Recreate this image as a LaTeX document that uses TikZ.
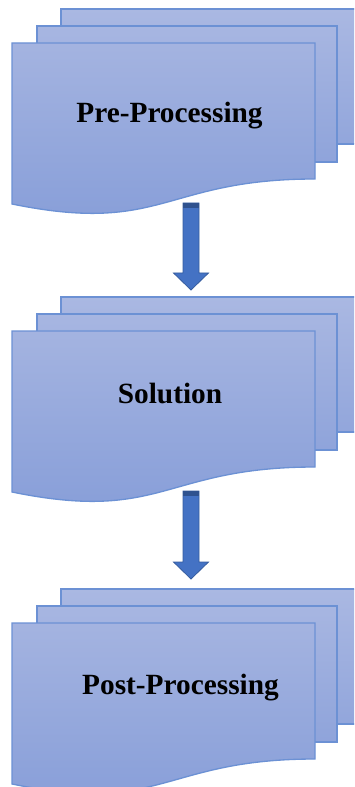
\documentclass[tikz,border=0pt]{standalone}
\usepackage{fontspec}
\setmainfont{Liberation Serif}
\usetikzlibrary{calc}

\definecolor{pagetop}{RGB}{170,184,226}
\definecolor{pagebot}{RGB}{134,157,216}
\definecolor{pageedge}{RGB}{108,145,212}
\definecolor{arrowfill}{RGB}{68,114,196}
\definecolor{arrowdark}{RGB}{47,82,143}

\tikzset{
  page/.style={draw=pageedge, line width=1pt, line join=miter},
  stagelabel/.style={anchor=base, inner sep=0pt, font=\bfseries\fontsize{22}{26}\selectfont},
  blockarrow/.style={fill=arrowfill, draw=arrowdark!70!arrowfill, line width=0.6pt, line join=miter},
  arrowcap/.style={fill=arrowdark},
  % stacked document sheets, the front one with a wavy lower edge
  multidoc/.pic={
    \path[page, top color=pagetop, bottom color=pagebot!66!pagetop]
      (61,9) rectangle (358,144);
    \path[page, top color=pagebot!8!pagetop, bottom color=pagebot!75!pagetop]
      (37,26) rectangle (337,162);
    \path[page, top color=pagebot!17!pagetop, bottom color=pagebot]
      (12,43) -- (315,43) -- (315,179)
      .. controls (163.5,179) and (163.5,235) .. (12,204) -- cycle;
  }
}

\begin{document}
\begin{tikzpicture}[x=0.75pt, y=-0.75pt]
  \useasboundingbox (0,0) rectangle (354,787);
  \clip (0,0) rectangle (354,787);

  % three stages
  \pic at (0,0)   {multidoc};
  \pic at (0,288) {multidoc};
  \pic at (0,580) {multidoc};

  \node[stagelabel] (pre)  at (169.5,123) {Pre-Processing};
  \node[stagelabel] (sol)  at (170,403)   {Solution};
  \node[stagelabel] (post) at (180.5,694) {Post-Processing};

  % block arrows between the stages
  \coordinate (a1top) at (191,203);
  \coordinate (a1tip) at (191,290);
  \coordinate (a2top) at (191,491);
  \coordinate (a2tip) at (191,579);

  \foreach \s/\e in {a1top/a1tip, a2top/a2tip}{
    \draw[blockarrow]
      ($(\s)+(-8,0)$) -- ($(\s)+(8,0)$) -- ($(\e)+(8,-17)$)
      -- ($(\e)+(17.5,-17)$) -- (\e) -- ($(\e)+(-17.5,-17)$)
      -- ($(\e)+(-8,-17)$) -- cycle;
    \fill[arrowcap] ($(\s)+(-8,0)$) rectangle ($(\s)+(8,5)$);
  }
\end{tikzpicture}
\end{document}
